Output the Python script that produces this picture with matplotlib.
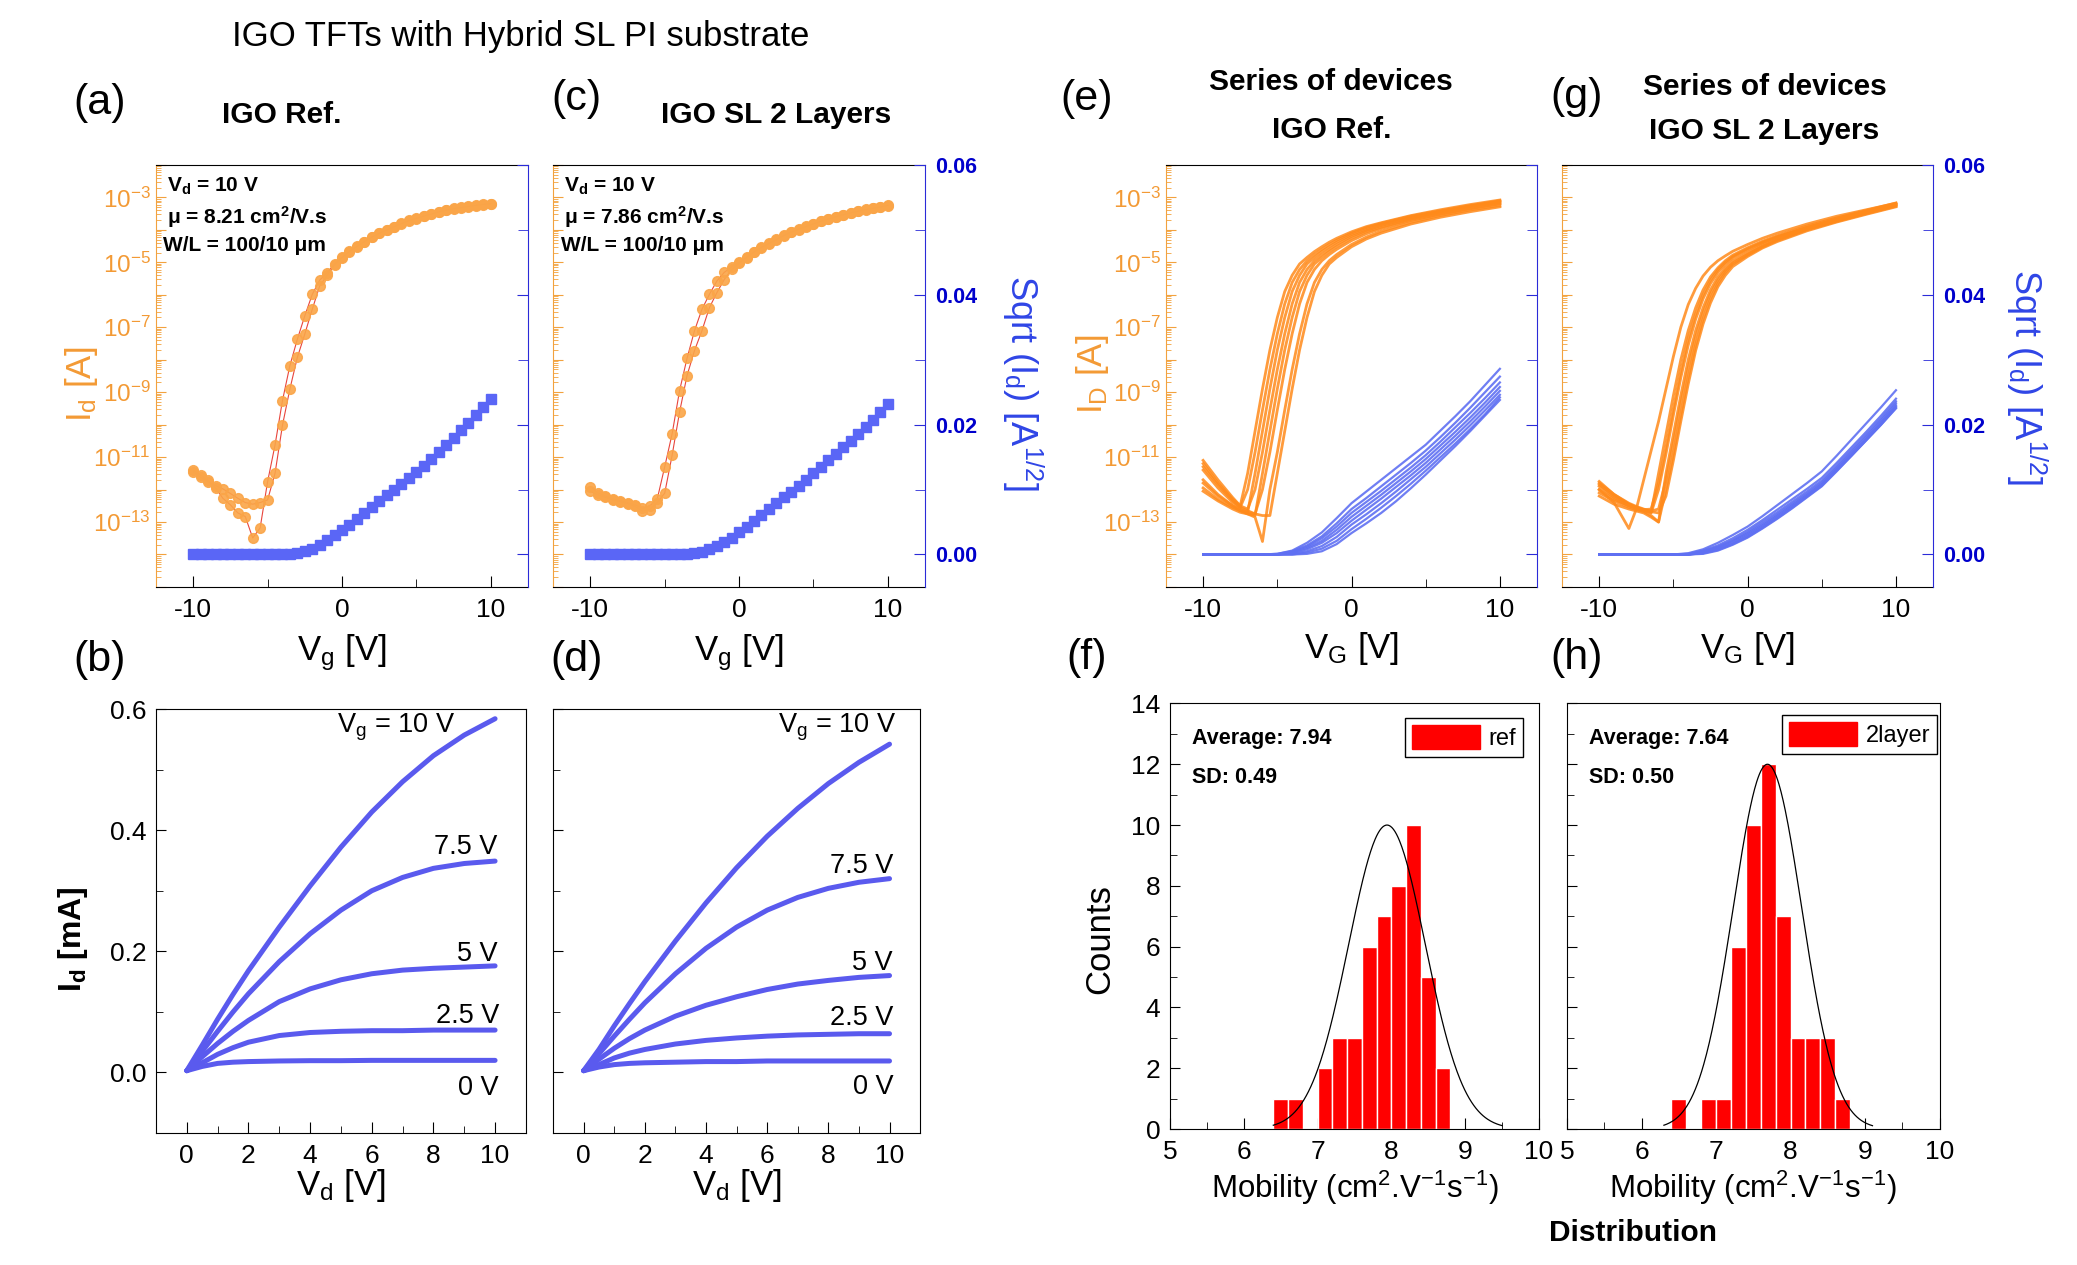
import numpy as np
import matplotlib
matplotlib.use('Agg')
import matplotlib.pyplot as plt
from matplotlib.ticker import LogLocator, NullFormatter
from matplotlib.patches import Patch

plt.rcParams['font.family'] = ['Liberation Sans', 'DejaVu Sans']
plt.rcParams['mathtext.fontset'] = 'custom'
plt.rcParams['mathtext.rm'] = 'Liberation Sans'
plt.rcParams['mathtext.it'] = 'Liberation Sans:italic'
plt.rcParams['mathtext.bf'] = 'Liberation Sans:bold'
plt.rcParams['axes.unicode_minus'] = False

# ---------------- data ----------------
# (a)/(c) single-device transfer curves, Vg sweep -10..10 V step 0.5 V (log10 Id [A])
VG_SWEEP = np.arange(-10, 10.01, 0.5)
A_SWEEP1_LOG = [-11.40, -11.55, -11.72, -11.95, -12.27, -12.47, -12.72, -12.83, -13.49, -13.18,
                -11.76, -10.63, -9.26, -8.18, -7.37, -6.65, -5.99, -5.55, -5.32, -5.05,
                -4.84, -4.66, -4.51, -4.36, -4.22, -4.10, -4.00, -3.90, -3.80, -3.71,
                -3.64, -3.57, -3.51, -3.44, -3.39, -3.34, -3.31, -3.27, -3.24, -3.21, -3.19]
A_SWEEP2_LOG = [-11.45, -11.62, -11.76, -11.88, -11.98, -12.12, -12.27, -12.40, -12.45, -12.40,
                -12.32, -11.50, -10.02, -8.90, -7.93, -7.21, -6.45, -5.73, -5.40, -5.08,
                -4.86, -4.67, -4.52, -4.37, -4.23, -4.11, -4.01, -3.91, -3.81, -3.72,
                -3.65, -3.58, -3.52, -3.45, -3.40, -3.35, -3.32, -3.28, -3.25, -3.22, -3.20]
A_SQRT = [0.0, 0.0, 0.0, 0.0, 0.0, 0.0, 0.0, 0.0, 0.0, 0.0, 0.0, 0.0, 0.0, 0.0,
          0.0002, 0.0005, 0.0009, 0.0015, 0.0022, 0.0030,
          0.0038, 0.0046, 0.0055, 0.0064, 0.0073, 0.0082, 0.0091, 0.0100, 0.0109, 0.0118,
          0.0127, 0.0137, 0.0147, 0.0158, 0.0169, 0.0180, 0.0191, 0.0203, 0.0215, 0.0227, 0.0239]
C_SWEEP1_LOG = [-11.91, -12.10, -12.20, -12.28, -12.34, -12.40, -12.47, -12.58, -12.50, -12.29,
                -11.30, -10.28, -8.95, -7.96, -7.11, -6.45, -5.99, -5.58, -5.31, -5.14,
                -5.00, -4.84, -4.67, -4.53, -4.41, -4.29, -4.16, -4.06, -3.97, -3.89,
                -3.81, -3.73, -3.66, -3.59, -3.53, -3.47, -3.42, -3.37, -3.33, -3.29, -3.24]
C_SWEEP2_LOG = [-12.05, -12.16, -12.24, -12.32, -12.37, -12.43, -12.52, -12.66, -12.62, -12.40,
                -12.11, -10.94, -9.61, -8.49, -7.72, -7.11, -6.40, -5.94, -5.53, -5.22,
                -5.03, -4.86, -4.69, -4.55, -4.43, -4.31, -4.18, -4.08, -3.99, -3.90,
                -3.82, -3.74, -3.67, -3.60, -3.54, -3.48, -3.43, -3.38, -3.34, -3.30, -3.25]
C_SQRT = [0.0, 0.0, 0.0, 0.0, 0.0, 0.0, 0.0, 0.0, 0.0, 0.0, 0.0, 0.0, 0.0, 0.0,
          0.0002, 0.0004, 0.0008, 0.0013, 0.0019, 0.0026,
          0.0034, 0.0043, 0.0052, 0.0061, 0.0070, 0.0079, 0.0088, 0.0097, 0.0106, 0.0115,
          0.0125, 0.0135, 0.0145, 0.0155, 0.0165, 0.0175, 0.0185, 0.0196, 0.0207, 0.0219, 0.0232]

# (e)/(g) series of devices: log10 Id on VG_DEV grid, sqrt(Id) on VG_SQ grid
VG_DEV = [-10, -9, -8, -7.5, -7, -6.5, -6, -5.5, -5, -4.5, -4, -3.5, -3, -2.5, -2, -1.5, -1,
          0, 1, 2, 4, 6, 8, 10]
E_DEVICES_LOG = [
    [-11.10, -11.70, -12.25, -12.50, -11.50, -10.20, -8.90, -7.70, -6.70, -5.90, -5.40, -5.05, -4.85, -4.67, -4.52, -4.38, -4.26, -4.06, -3.90, -3.78, -3.56, -3.38, -3.22, -3.08],
    [-11.30, -11.85, -12.35, -12.55, -12.00, -10.85, -9.55, -8.30, -7.20, -6.28, -5.62, -5.22, -4.95, -4.76, -4.60, -4.45, -4.32, -4.10, -3.93, -3.80, -3.58, -3.41, -3.25, -3.12],
    [-11.80, -12.20, -12.50, -12.65, -12.70, -11.50, -10.20, -8.90, -7.70, -6.70, -5.90, -5.40, -5.05, -4.85, -4.67, -4.52, -4.38, -4.15, -3.98, -3.84, -3.62, -3.44, -3.28, -3.15],
    [-11.20, -11.80, -12.30, -12.50, -12.60, -12.00, -10.85, -9.55, -8.30, -7.20, -6.28, -5.62, -5.22, -4.95, -4.76, -4.60, -4.45, -4.20, -4.02, -3.87, -3.64, -3.45, -3.27, -3.10],
    [-11.95, -12.30, -12.55, -12.65, -12.75, -12.80, -11.50, -10.20, -8.90, -7.70, -6.70, -5.90, -5.40, -5.05, -4.85, -4.67, -4.52, -4.26, -4.06, -3.92, -3.68, -3.49, -3.32, -3.18],
    [-11.40, -11.95, -12.40, -12.55, -12.65, -12.75, -12.00, -10.85, -9.55, -8.30, -7.20, -6.28, -5.62, -5.22, -4.95, -4.76, -4.60, -4.33, -4.12, -3.96, -3.71, -3.52, -3.35, -3.20],
    [-12.05, -12.35, -12.60, -12.70, -12.75, -12.85, -13.60, -12.00, -10.85, -9.55, -8.30, -7.20, -6.28, -5.62, -5.22, -4.95, -4.76, -4.45, -4.22, -4.04, -3.77, -3.56, -3.39, -3.25],
    [-11.70, -12.15, -12.50, -12.60, -12.70, -12.75, -12.80, -12.80, -11.50, -10.20, -8.90, -7.70, -6.70, -5.90, -5.40, -5.05, -4.85, -4.52, -4.28, -4.10, -3.82, -3.61, -3.44, -3.29],
]
G_DEVICES_LOG = [
    [-12.00, -12.40, -13.20, -12.60, -11.70, -10.80, -9.90, -8.90, -7.90, -7.00, -6.30, -5.80, -5.42, -5.15, -4.95, -4.80, -4.66, -4.45, -4.26, -4.10, -3.82, -3.58, -3.38, -3.18],
    [-11.85, -12.20, -12.45, -12.55, -12.62, -12.70, -11.50, -10.30, -9.10, -8.00, -7.10, -6.40, -5.85, -5.45, -5.17, -4.95, -4.78, -4.55, -4.35, -4.18, -3.88, -3.63, -3.40, -3.17],
    [-12.00, -12.30, -12.50, -12.58, -12.65, -12.72, -12.00, -10.90, -9.70, -8.55, -7.55, -6.75, -6.12, -5.65, -5.31, -5.06, -4.86, -4.62, -4.40, -4.22, -3.92, -3.66, -3.43, -3.20],
    [-12.10, -12.35, -12.55, -12.62, -12.68, -12.80, -13.00, -11.50, -10.30, -9.10, -8.00, -7.10, -6.40, -5.85, -5.45, -5.17, -4.95, -4.70, -4.46, -4.27, -3.96, -3.70, -3.46, -3.23],
    [-11.90, -12.25, -12.50, -12.58, -12.62, -12.66, -12.60, -11.70, -10.55, -9.35, -8.25, -7.30, -6.55, -5.97, -5.55, -5.25, -5.02, -4.75, -4.50, -4.30, -3.98, -3.72, -3.48, -3.25],
    [-12.20, -12.45, -12.60, -12.66, -12.72, -12.85, -13.00, -12.00, -10.90, -9.70, -8.55, -7.55, -6.75, -6.12, -5.65, -5.31, -5.06, -4.78, -4.53, -4.33, -4.00, -3.74, -3.50, -3.27],
    [-11.80, -12.15, -12.42, -12.52, -12.60, -12.68, -12.72, -12.20, -11.10, -9.90, -8.75, -7.72, -6.90, -6.25, -5.75, -5.40, -5.13, -4.82, -4.56, -4.36, -4.03, -3.76, -3.52, -3.29],
    [-11.75, -12.15, -12.45, -12.55, -12.62, -12.60, -11.80, -10.70, -9.50, -8.35, -7.35, -6.60, -6.00, -5.55, -5.23, -5.00, -4.82, -4.58, -4.38, -4.21, -3.92, -3.67, -3.44, -3.22],
]
VG_SQ = [-10, -6, -5, -4, -3, -2, -1, 0, 1, 2, 3, 4, 5, 6, 7, 8, 9, 10]
E_DEVICES_SQRT = [
    [0, 0, 0.0001, 0.0006, 0.0018, 0.0034, 0.0056, 0.0079, 0.0097, 0.0115, 0.0133, 0.0151, 0.0169, 0.0191, 0.0213, 0.0236, 0.0261, 0.0286],
    [0, 0, 0.0001, 0.0005, 0.0014, 0.0028, 0.0048, 0.0070, 0.0087, 0.0105, 0.0123, 0.0141, 0.0160, 0.0181, 0.0203, 0.0226, 0.0250, 0.0274],
    [0, 0, 0, 0.0004, 0.0012, 0.0025, 0.0043, 0.0064, 0.0081, 0.0098, 0.0116, 0.0134, 0.0153, 0.0174, 0.0196, 0.0218, 0.0241, 0.0265],
    [0, 0, 0, 0.0003, 0.0010, 0.0021, 0.0038, 0.0058, 0.0075, 0.0092, 0.0110, 0.0128, 0.0147, 0.0168, 0.0189, 0.0211, 0.0234, 0.0258],
    [0, 0, 0, 0.0002, 0.0008, 0.0018, 0.0033, 0.0052, 0.0069, 0.0086, 0.0104, 0.0122, 0.0141, 0.0162, 0.0183, 0.0205, 0.0228, 0.0252],
    [0, 0, 0, 0.0001, 0.0005, 0.0013, 0.0027, 0.0046, 0.0062, 0.0079, 0.0097, 0.0116, 0.0135, 0.0156, 0.0177, 0.0199, 0.0222, 0.0246],
    [0, 0, 0, 0, 0.0003, 0.0009, 0.0021, 0.0039, 0.0055, 0.0072, 0.0090, 0.0109, 0.0129, 0.0150, 0.0171, 0.0193, 0.0216, 0.0242],
    [0, 0, 0, 0, 0.0001, 0.0005, 0.0016, 0.0033, 0.0048, 0.0064, 0.0082, 0.0102, 0.0123, 0.0145, 0.0167, 0.0190, 0.0214, 0.0238],
]
G_DEVICES_SQRT = [
    [0, 0, 0, 0.0002, 0.0008, 0.0018, 0.0030, 0.0043, 0.0059, 0.0076, 0.0093, 0.0110, 0.0128, 0.0152, 0.0177, 0.0202, 0.0227, 0.0253],
    [0, 0, 0, 0.0001, 0.0006, 0.0014, 0.0025, 0.0038, 0.0053, 0.0069, 0.0085, 0.0101, 0.0118, 0.0141, 0.0165, 0.0189, 0.0214, 0.0240],
    [0, 0, 0, 0, 0.0005, 0.0012, 0.0022, 0.0035, 0.0050, 0.0065, 0.0081, 0.0097, 0.0114, 0.0137, 0.0161, 0.0185, 0.0210, 0.0236],
    [0, 0, 0, 0, 0.0004, 0.0011, 0.0021, 0.0033, 0.0047, 0.0062, 0.0078, 0.0094, 0.0111, 0.0134, 0.0158, 0.0182, 0.0207, 0.0233],
    [0, 0, 0, 0, 0.0003, 0.0009, 0.0019, 0.0031, 0.0045, 0.0060, 0.0076, 0.0092, 0.0109, 0.0132, 0.0155, 0.0179, 0.0204, 0.0230],
    [0, 0, 0, 0, 0.0002, 0.0008, 0.0017, 0.0029, 0.0043, 0.0058, 0.0074, 0.0090, 0.0107, 0.0130, 0.0153, 0.0177, 0.0202, 0.0228],
    [0, 0, 0, 0, 0.0002, 0.0007, 0.0016, 0.0027, 0.0041, 0.0056, 0.0072, 0.0089, 0.0106, 0.0129, 0.0152, 0.0176, 0.0200, 0.0226],
    [0, 0, 0, 0, 0.0001, 0.0006, 0.0015, 0.0026, 0.0040, 0.0055, 0.0071, 0.0088, 0.0105, 0.0128, 0.0152, 0.0176, 0.0200, 0.0225],
]

# (b)/(d) output curves, Id [mA]
VD = [0, 0.5, 1, 1.5, 2, 3, 4, 5, 6, 7, 8, 9, 10]
VG_STEPS = ['10', '7.5', '5', '2.5', '0']
B_ID = [
    [0.003, 0.045, 0.088, 0.129, 0.168, 0.240, 0.308, 0.372, 0.430, 0.480, 0.523, 0.557, 0.584],
    [0.003, 0.035, 0.068, 0.100, 0.130, 0.183, 0.229, 0.268, 0.300, 0.322, 0.337, 0.345, 0.349],
    [0.003, 0.026, 0.048, 0.068, 0.086, 0.117, 0.138, 0.153, 0.163, 0.169, 0.172, 0.174, 0.176],
    [0.003, 0.016, 0.030, 0.041, 0.050, 0.061, 0.066, 0.068, 0.069, 0.069, 0.070, 0.070, 0.070],
    [0.003, 0.010, 0.015, 0.017, 0.018, 0.019, 0.0195, 0.0195, 0.020, 0.020, 0.020, 0.020, 0.020],
]
D_ID = [
    [0.003, 0.038, 0.077, 0.114, 0.150, 0.217, 0.280, 0.338, 0.390, 0.436, 0.477, 0.512, 0.542],
    [0.003, 0.031, 0.060, 0.088, 0.115, 0.163, 0.205, 0.240, 0.268, 0.289, 0.304, 0.314, 0.320],
    [0.003, 0.022, 0.040, 0.056, 0.070, 0.093, 0.111, 0.125, 0.137, 0.146, 0.152, 0.157, 0.160],
    [0.003, 0.013, 0.024, 0.032, 0.038, 0.047, 0.053, 0.057, 0.060, 0.062, 0.063, 0.064, 0.064],
    [0.003, 0.009, 0.013, 0.015, 0.016, 0.017, 0.018, 0.018, 0.019, 0.019, 0.019, 0.019, 0.019],
]
B_LABEL_POS = [(8.7, 0.57), (10.08, 0.373), (10.08, 0.196), (10.13, 0.094), (10.13, -0.025)]
D_LABEL_POS = [(10.22, 0.57), (10.11, 0.341), (10.11, 0.181), (10.13, 0.0895), (10.13, -0.024)]

# (f)/(h) mobility histograms
BIN_LEFT = [6.4, 6.6, 6.8, 7.0, 7.2, 7.4, 7.6, 7.8, 8.0, 8.2, 8.4, 8.6]
F_COUNTS = [1, 1, 0, 2, 3, 3, 6, 7, 8, 10, 5, 2]
H_COUNTS = [1, 0, 1, 1, 6, 10, 12, 7, 3, 3, 3, 1]
F_FIT = dict(center=7.94, sigma=0.52, peak=10.0, lo=6.4, hi=9.5)
H_FIT = dict(center=7.69, sigma=0.46, peak=12.0, lo=6.3, hi=9.1)

# ---------------- style ----------------
OR_AX = '#F2A23E'
OR_TXT = '#F39A35'
OR_LINE = '#FF8A1A'
OR_MK = '#FAA548'
RED_LINE = '#E8453C'
BL_AX = '#2B2BD8'
BL_TXT = '#0000CC'
BL_LABEL = '#2F45E6'
BL_MK = '#5A66F6'
BL_LINE = '#5F70F2'
BL_OUT = '#5A5AEE'

fig = plt.figure(figsize=(20.77, 12.65), dpi=100)
fig.patch.set_facecolor('white')

POS_A = [0.0751, 0.5360, 0.1791, 0.3336]
POS_C = [0.2663, 0.5360, 0.1791, 0.3336]
POS_E = [0.5614, 0.5360, 0.1786, 0.3336]
POS_G = [0.7521, 0.5360, 0.1786, 0.3336]
POS_B = [0.0751, 0.1043, 0.1781, 0.3352]
POS_D = [0.2663, 0.1043, 0.1767, 0.3352]
POS_F = [0.5633, 0.1075, 0.1777, 0.3364]
POS_H = [0.7545, 0.1075, 0.1793, 0.3364]


def transfer_axes(pos, left_labels, right_labels):
    ax = fig.add_axes(pos)
    ax.set_yscale('log')
    ax.set_xlim(-12.5, 12.5)
    ax.set_ylim(1e-15, 1e-2)
    ax2 = ax.twinx()
    ax2.set_ylim(-0.005, 0.06)
    ax.spines['left'].set_color(OR_AX)
    ax.spines['right'].set_visible(False)
    for s in ('left', 'top', 'bottom'):
        ax2.spines[s].set_visible(False)
    ax2.spines['right'].set_color(BL_AX)
    ax.set_xticks([-10, 0, 10])
    ax.set_xticks([-5, 5], minor=True)
    ax.tick_params(axis='x', which='both', direction='in', top=False, labelsize=19, pad=8)
    ax.tick_params(axis='x', which='major', length=8)
    ax.tick_params(axis='x', which='minor', length=6)
    exps = list(range(-15, -1))
    labs = [(r'$10^{%d}$' % e if (left_labels and e % 2 != 0 and e >= -13) else '') for e in exps]
    ax.set_yticks([10.0 ** e for e in exps], labels=labs)
    ax.yaxis.set_minor_locator(LogLocator(base=10, subs=np.arange(2, 10) * 1.0, numticks=200))
    ax.yaxis.set_minor_formatter(NullFormatter())
    ax.tick_params(axis='y', which='both', direction='in', color=OR_AX, labelcolor=OR_TXT,
                   labelsize=17.5, pad=4, right=False)
    ax.tick_params(axis='y', which='major', length=7)
    ax.tick_params(axis='y', which='minor', length=3.5)
    rl = ['0.00', '0.02', '0.04', '0.06'] if right_labels else ['', '', '', '']
    ax2.set_yticks([0, 0.02, 0.04, 0.06], labels=rl, fontweight='bold')
    ax2.set_yticks([0.01, 0.03, 0.05], minor=True)
    ax2.tick_params(axis='y', which='both', direction='in', color=BL_AX, labelcolor=BL_TXT,
                    labelsize=15.5, pad=7)
    ax2.tick_params(axis='y', which='major', length=8)
    ax2.tick_params(axis='y', which='minor', length=7)
    return ax, ax2


# ---- (a) and (c) ----
for pos, s1, s2, sq, mu, left, right in [
        (POS_A, A_SWEEP1_LOG, A_SWEEP2_LOG, A_SQRT, '8.21', True, False),
        (POS_C, C_SWEEP1_LOG, C_SWEEP2_LOG, C_SQRT, '7.86', False, True)]:
    ax, ax2 = transfer_axes(pos, left, right)
    for sw in (s1, s2):
        ax.plot(VG_SWEEP, 10.0 ** np.array(sw), '-', color=RED_LINE, lw=0.8, zorder=2)
        ax.plot(VG_SWEEP, 10.0 ** np.array(sw), 'o', color=OR_MK, ms=7, mec=OR_MK,
                alpha=0.9, zorder=3)
    ax2.plot(VG_SWEEP, sq, 's', color=BL_MK, ms=7, mec=BL_MK, zorder=3)
    ax.text(0.029, 0.949, r'V$_{\bf d}$ = 10 V', transform=ax.transAxes, fontsize=15,
            fontweight='bold', va='center', ha='left', zorder=5)
    ax.text(0.029, 0.877, 'μ = ' + mu + r' cm$^{\bf 2}$/V.s', transform=ax.transAxes,
            fontsize=15, fontweight='bold', va='center', ha='left', zorder=5)
    ax.text(0.02, 0.809, 'W/L = 100/10 μm', transform=ax.transAxes, fontsize=15,
            fontweight='bold', va='center', ha='left', zorder=5)
    ax.set_xlabel(r'V$_{\rm g}$ [V]', fontsize=25)
    ax.xaxis.set_label_coords(0.5, -0.156)
    ax.xaxis.label.set_va('center')
    if left:
        ax.set_ylabel(r'I$_{\rm d}$ [A]', fontsize=25, color=OR_TXT)
        ax.yaxis.set_label_coords(-0.199, 0.481)
        ax.yaxis.label.set_va('center')
    if right:
        ax2.set_ylabel(r'Sqrt (I$_{\rm d}$) [A$^{1/2}$]', fontsize=26, color=BL_LABEL,
                       rotation=270)
        ax2.yaxis.set_label_coords(1.263, 0.483)
        ax2.yaxis.label.set_va('center')
        ax2.yaxis.label.set_ha('center')

# ---- (e) and (g) ----
for pos, devs, sqs, left, right in [(POS_E, E_DEVICES_LOG, E_DEVICES_SQRT, True, False),
                                     (POS_G, G_DEVICES_LOG, G_DEVICES_SQRT, False, True)]:
    ax, ax2 = transfer_axes(pos, left, right)
    for d in devs:
        ax.plot(VG_DEV, 10.0 ** np.array(d), '-', color=OR_LINE, lw=2.0, alpha=0.85)
    for s in sqs:
        ax2.plot(VG_SQ, s, '-', color=BL_LINE, lw=1.6, alpha=0.9)
    ax.set_xlabel(r'V$_{\rm G}$ [V]', fontsize=25)
    ax.xaxis.set_label_coords(0.5, -0.147)
    ax.xaxis.label.set_va('center')
    if left:
        ax.set_ylabel(r'I$_{\rm D}$ [A]', fontsize=25, color=OR_TXT)
        ax.yaxis.set_label_coords(-0.197, 0.506)
        ax.yaxis.label.set_va('center')
    if right:
        ax2.set_ylabel(r'Sqrt (I$_{\rm d}$) [A$^{1/2}$]', fontsize=26, color=BL_LABEL,
                       rotation=270)
        ax2.yaxis.set_label_coords(1.253, 0.497)
        ax2.yaxis.label.set_va('center')
        ax2.yaxis.label.set_ha('center')

# ---- (b) and (d) ----
for pos, curves, lpos, ylab in [(POS_B, B_ID, B_LABEL_POS, True), (POS_D, D_ID, D_LABEL_POS, False)]:
    ax = fig.add_axes(pos)
    for c in curves:
        ax.plot(VD, c, '-', color=BL_OUT, lw=3.6, solid_capstyle='round')
    for name, (x, y) in zip(VG_STEPS, lpos):
        txt = (r'V$_{\rm g}$ = ' + name + ' V') if name == '10' else (name + ' V')
        ax.text(x, y, txt, ha='right', va='center', fontsize=19.5)
    ax.set_xlim(-1, 11)
    ax.set_ylim(-0.1, 0.6)
    ax.set_xticks([0, 2, 4, 6, 8, 10])
    ax.set_xticks([1, 3, 5, 7, 9], minor=True)
    ax.set_yticks([0.0, 0.2, 0.4, 0.6], labels=(['0.0', '0.2', '0.4', '0.6'] if ylab else ['', '', '', '']))
    ax.set_yticks([0.1, 0.3, 0.5], minor=True)
    ax.tick_params(which='both', direction='in', top=False, right=False, labelsize=19)
    ax.tick_params(axis='x', which='major', length=8, pad=8)
    ax.tick_params(axis='x', which='minor', length=5)
    ax.tick_params(axis='y', which='major', length=7, pad=7)
    ax.tick_params(axis='y', which='minor', length=5)
    ax.set_xlabel(r'V$_{\rm d}$ [V]', fontsize=25)
    ax.xaxis.set_label_coords(0.5, -0.124)
    ax.xaxis.label.set_va('center')
    if ylab:
        ax.set_ylabel(r'I$_{\bf d}$ [mA]', fontsize=23, fontweight='bold')
        ax.yaxis.set_label_coords(-0.224, 0.458)
        ax.yaxis.label.set_va('center')

# ---- (f) and (h) ----
for pos, counts, fit, avg, sd, lab, lanchor, ylab in [
        (POS_F, F_COUNTS, F_FIT, '7.94', '0.49', 'ref', (0.957, 0.966), True),
        (POS_H, H_COUNTS, H_FIT, '7.64', '0.50', '2layer', (0.994, 0.973), False)]:
    ax = fig.add_axes(pos)
    ax.bar(BIN_LEFT, counts, width=0.2, align='edge', color='#FF0000', edgecolor='white',
           linewidth=1.0, zorder=2)
    xs = np.linspace(fit['lo'], fit['hi'], 300)
    ax.plot(xs, fit['peak'] * np.exp(-0.5 * ((xs - fit['center']) / fit['sigma']) ** 2),
            color='black', lw=0.9, zorder=3)
    ax.set_xlim(5, 10)
    ax.set_ylim(0, 14)
    ax.set_xticks([5, 6, 7, 8, 9, 10])
    ax.set_xticks([5.5, 6.5, 7.5, 8.5, 9.5], minor=True)
    ax.set_yticks([0, 2, 4, 6, 8, 10, 12, 14],
                  labels=([str(v) for v in [0, 2, 4, 6, 8, 10, 12, 14]] if ylab else [''] * 8))
    ax.set_yticks([1, 3, 5, 7, 9, 11, 13], minor=True)
    ax.tick_params(which='both', direction='in', top=False, right=False, labelsize=19)
    ax.tick_params(axis='x', which='major', length=8, pad=8)
    ax.tick_params(axis='x', which='minor', length=5)
    ax.tick_params(axis='y', which='major', length=7, pad=7)
    ax.tick_params(axis='y', which='minor', length=5)
    ax.text(0.06, 0.918, 'Average: ' + avg, transform=ax.transAxes, fontsize=15.5,
            fontweight='bold', va='center')
    ax.text(0.06, 0.827, 'SD: ' + sd, transform=ax.transAxes, fontsize=15.5,
            fontweight='bold', va='center')
    leg = ax.legend(handles=[Patch(facecolor='#FF0000', edgecolor='#FF0000', label=lab)],
                    loc='upper right', bbox_to_anchor=lanchor, fancybox=False,
                    edgecolor='black', framealpha=1, fontsize=17, handlelength=2.9,
                    handleheight=1.2, borderpad=0.3, handletextpad=0.35, borderaxespad=0)
    leg.get_frame().set_linewidth(1.0)
    ax.set_xlabel(r'Mobility (cm$^{2}$.V$^{-1}$s$^{-1}$)', fontsize=22.5)
    ax.xaxis.set_label_coords(0.5, -0.139)
    ax.xaxis.label.set_va('center')
    if ylab:
        ax.set_ylabel('Counts', fontsize=25)
        ax.yaxis.set_label_coords(-0.191, 0.447)
        ax.yaxis.label.set_va('center')

# ---- figure texts ----
fig.text(0.2508, 0.9708, 'IGO TFTs with Hybrid SL PI substrate', fontsize=25,
         ha='center', va='center')
for x, y, t in [(0.0478, 0.9183, '(a)'), (0.2774, 0.9217, '(c)'), (0.523, 0.9217, '(e)'),
                (0.759, 0.9234, '(g)'), (0.0478, 0.4783, '(b)'), (0.2774, 0.478, '(d)'),
                (0.523, 0.4798, '(f)'), (0.759, 0.4798, '(h)')]:
    fig.text(x, y, t, fontsize=31, ha='center', va='center')
for x, y, t in [(0.1358, 0.909, 'IGO Ref.'), (0.3737, 0.909, 'IGO SL 2 Layers'),
                (0.641, 0.935, 'Series of devices'), (0.641, 0.897, 'IGO Ref.'),
                (0.8495, 0.931, 'Series of devices'), (0.8495, 0.8964, 'IGO SL 2 Layers'),
                (0.7863, 0.0253, 'Distribution')]:
    fig.text(x, y, t, fontsize=21.5, fontweight='bold', ha='center', va='center')

fig.savefig('out.png', dpi=100, facecolor='white')
